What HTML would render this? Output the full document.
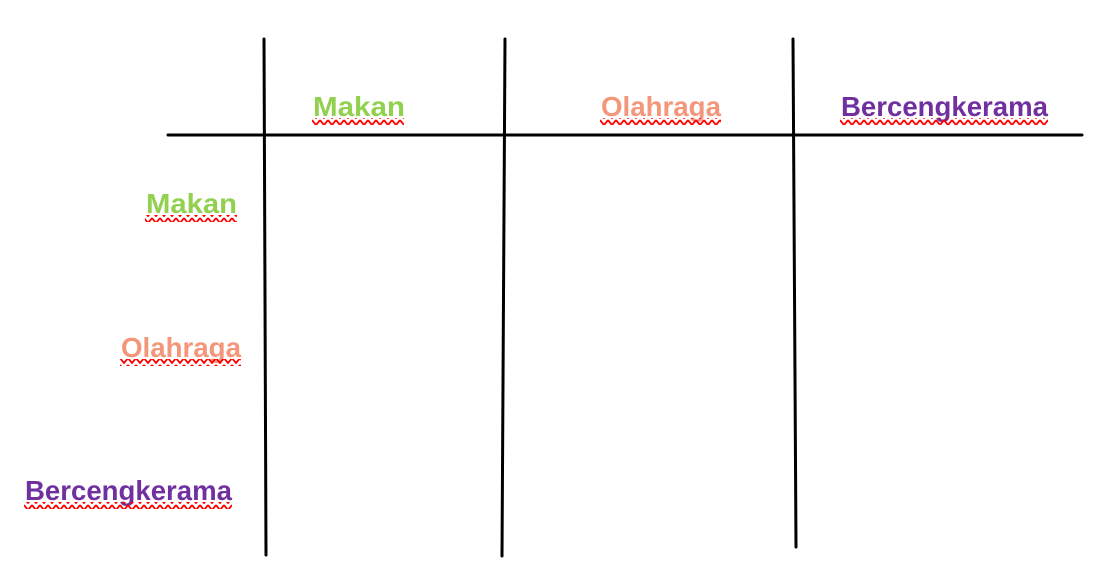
<!DOCTYPE html>
<html><head><meta charset="utf-8"><style>
html,body{margin:0;padding:0;background:#fff;width:1104px;height:577px;overflow:hidden}
text{font-family:"Liberation Sans",sans-serif;font-weight:bold;font-size:28px}
</style></head><body>
<svg width="1104" height="577" viewBox="0 0 1104 577">
<defs>
<pattern id="sq" width="8" height="7" patternUnits="userSpaceOnUse">
<path d="M0 1 L4 6 L8 1" fill="none" stroke="#f00" stroke-width="1.8"/>
</pattern>
</defs>
<g stroke="#000" stroke-width="3" stroke-linecap="round" fill="none">
<line x1="168" y1="135" x2="1082" y2="135"/>
<line x1="264" y1="39" x2="266" y2="555"/>
<line x1="505" y1="39" x2="502" y2="556"/>
<line x1="793" y1="39" x2="796" y2="547"/>
</g>
<text x="313" y="116" fill="#92d050" textLength="92" lengthAdjust="spacingAndGlyphs">Makan</text>
<rect x="312" y="118" width="92" height="7" fill="url(#sq)"/>
<text x="601" y="116" fill="#f4967a" textLength="120" lengthAdjust="spacingAndGlyphs">Olahraga</text>
<rect x="600" y="118" width="121" height="7" fill="url(#sq)"/>
<text x="841" y="116" fill="#7030a0" textLength="207" lengthAdjust="spacingAndGlyphs">Bercengkerama</text>
<rect x="840" y="118" width="208" height="7" fill="url(#sq)"/>
<text x="146" y="213" fill="#92d050" textLength="91" lengthAdjust="spacingAndGlyphs">Makan</text>
<rect x="145" y="215" width="92" height="7" fill="url(#sq)"/>
<text x="121" y="357" fill="#f4967a" textLength="120" lengthAdjust="spacingAndGlyphs">Olahraga</text>
<rect x="120" y="359" width="121" height="7" fill="url(#sq)"/>
<text x="25" y="500" fill="#7030a0" textLength="207" lengthAdjust="spacingAndGlyphs">Bercengkerama</text>
<rect x="24" y="502" width="208" height="7" fill="url(#sq)"/>
</svg>
</body></html>
